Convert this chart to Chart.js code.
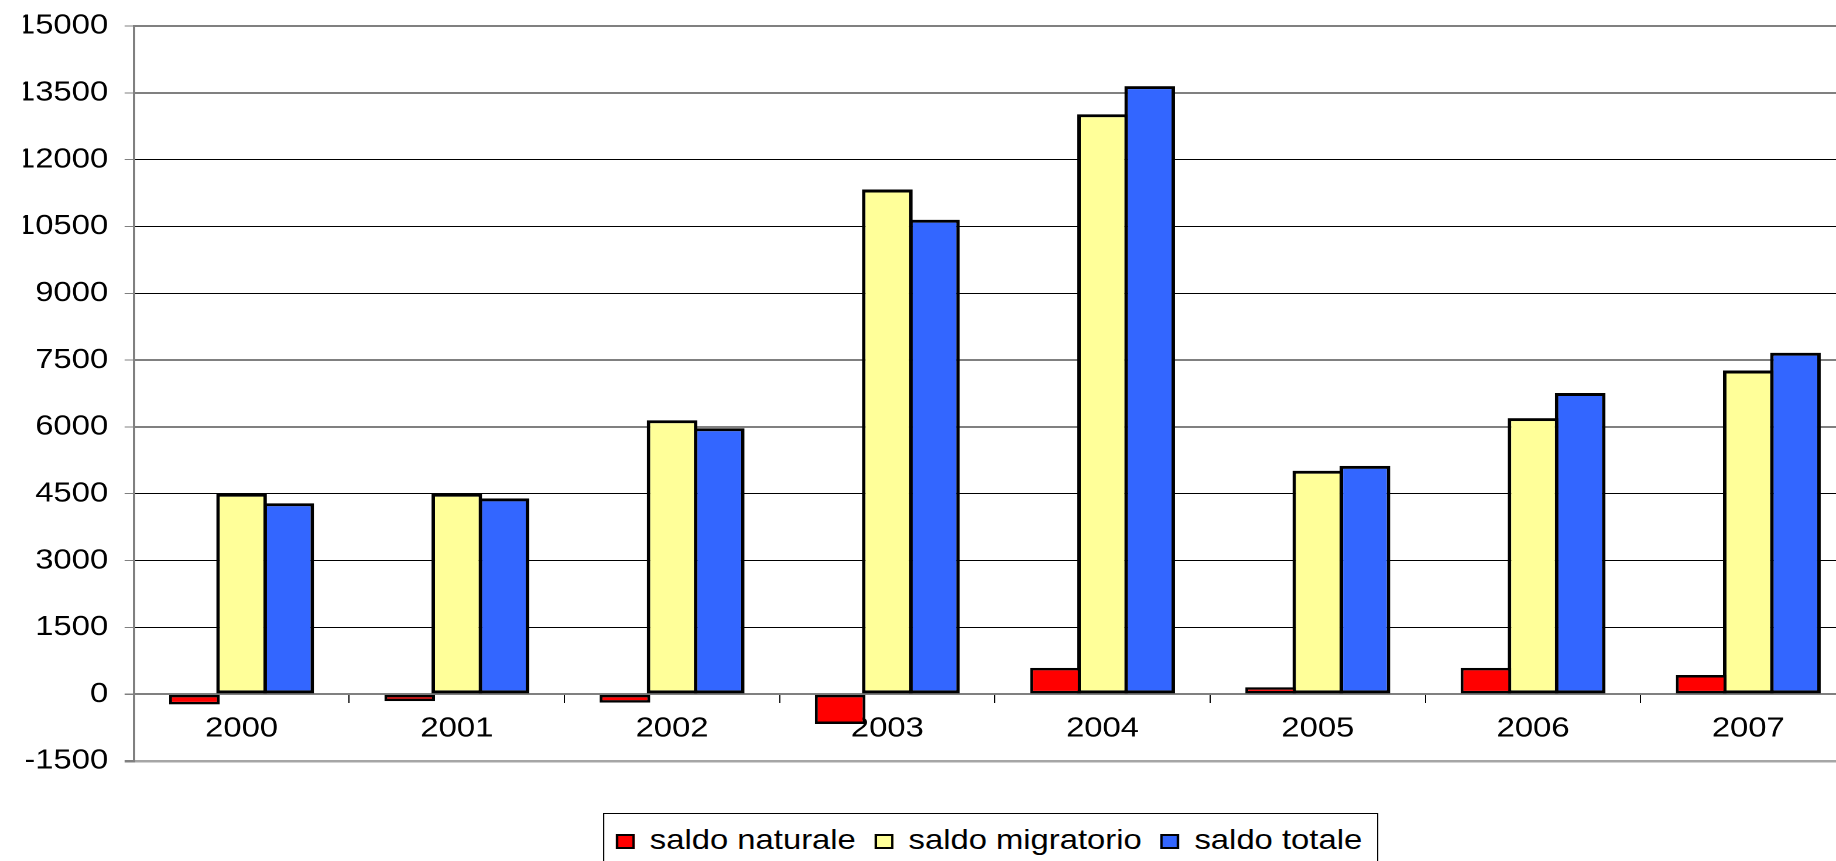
<!DOCTYPE html>
<html>
<head>
<meta charset="utf-8">
<script src="https://cdn.jsdelivr.net/npm/chart.js@4.4.1/dist/chart.umd.min.js"></script>
<style>
  html, body { margin: 0; padding: 0; background: #fff; overflow: hidden; width: 1836px; height: 861px; }
  #wrap { position: absolute; left: 0; top: 0; width: 1600px; height: 861px; transform: scaleX(1.17092); transform-origin: 0 0; }
  #box { position: absolute; left: 0; top: 0; width: 1600px; height: 861px; }
  #legend { position: absolute; left: 515px; top: 813px; width: 662px; height: 70px; border: 1px solid #000; box-sizing: border-box; background: #fff;
    font-family: 'Liberation Sans', Arial, sans-serif; font-size: 28px; color: #000; display: flex; align-items: flex-start; padding-left: 10px; padding-top: 10px; white-space: nowrap; }
  .item { display: flex; align-items: center; margin-right: 16px; flex: none; }
  .sw { display: inline-block; flex: none; width: 16px; height: 15px; border: 2px solid #000; box-sizing: border-box; margin-right: 13px; margin-top: 2px; }
</style>
</head>
<body>
<div id="wrap">
  <div id="box"><canvas id="c"></canvas></div>
  <div id="legend"></div>
</div>
<script>
const categories = ['2000', '2001', '2002', '2003', '2004', '2005', '2006', '2007'];
const saldoNaturale = [-230, -155, -190, -670, 590, 155, 590, 430];
const saldoMigratorio = [4500, 4500, 6150, 11330, 13020, 5015, 6196, 7267];
const saldoTotale = [4285, 4396, 5970, 10650, 13650, 5125, 6760, 7665];
const seriesNames = ['saldo naturale', 'saldo migratorio', 'saldo totale'];
const seriesColors = ['#FF0000', '#FFFF99', '#3366FF'];
const yTicks = { min: -1500, max: 15000, step: 1500 };

const FONT = "'Liberation Sans', Arial, sans-serif";
const seriesData = [saldoNaturale, saldoMigratorio, saldoTotale];

const datasets = seriesData.map((d, i) => ({
  label: seriesNames[i],
  data: d,
  backgroundColor: seriesColors[i],
  borderColor: '#000',
  borderWidth: i === 0 ? 2.5 : 3,
  borderSkipped: false,
  categoryPercentage: 0.657,
  barPercentage: 1.074
}));

new Chart(document.getElementById('c'), {
  type: 'bar',
  data: { labels: categories, datasets },
  options: {
    responsive: true,
    maintainAspectRatio: false,
    devicePixelRatio: 2,
    animation: false,
    layout: { padding: { left: 20, top: 26, right: 15, bottom: 100 } },
    plugins: { legend: { display: false }, tooltip: { enabled: false } },
    scales: {
      x: {
        type: 'category',
        position: { y: 0 },
        grid: { offset: true, drawOnChartArea: false, drawTicks: true, tickLength: 8, color: '#000', lineWidth: 1 },
        border: { display: true, color: '#808080', width: 2 },
        ticks: { color: '#000', font: { family: FONT, size: 28 }, padding: 10, maxRotation: 0, autoSkip: false }
      },
      y: {
        min: yTicks.min,
        max: yTicks.max,
        afterFit(scale) { scale.width = 94.4; scale.paddingTop = 0; scale.paddingBottom = 0; },
        grid: {
          drawTicks: true,
          tickLength: 8,
          tickColor: '#808080',
          color: (ctx) => {
            const v = ctx.tick && ctx.tick.value;
            if (v === 0) return '#808080';
            if (v === yTicks.min) return '#a6a6a6';
            return '#000';
          },
          lineWidth: (ctx) => {
            const v = ctx.tick && ctx.tick.value;
            if (v === yTicks.min) return 2.5;
            if (v === 0) return 1.5;
            return 1;
          }
        },
        border: { display: true, color: '#808080', width: 2 },
        ticks: {
          stepSize: yTicks.step,
          color: '#000',
          padding: 14,
          font: { family: FONT, size: 28 },
          callback: (v) => String(v)
        }
      }
    }
  }
});

const legend = document.getElementById('legend');
seriesNames.forEach((n, i) => {
  const it = document.createElement('div');
  it.className = 'item';
  const sw = document.createElement('span');
  sw.className = 'sw';
  sw.style.background = seriesColors[i];
  const tx = document.createElement('span');
  tx.textContent = n;
  it.appendChild(sw);
  it.appendChild(tx);
  legend.appendChild(it);
});
</script>
</body>
</html>
